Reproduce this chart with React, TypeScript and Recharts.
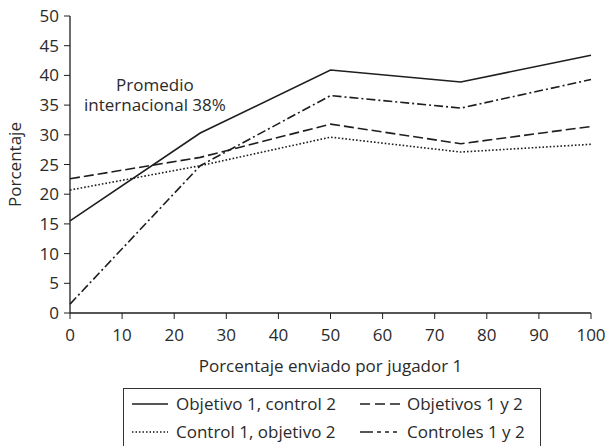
import React from 'react';
import { LineChart, Line, XAxis, YAxis, ReferenceDot } from 'recharts';

const xValues = [0, 25, 50, 75, 100];
const objetivo1Control2 = [15.5, 30.3, 40.9, 38.9, 43.4];
const objetivos1y2 = [22.6, 26.2, 31.8, 28.5, 31.4];
const control1Objetivo2 = [20.7, 24.8, 29.6, 27.1, 28.4];
const controles1y2 = [1.5, 24.8, 36.6, 34.5, 39.3];
const xTicks = [0, 10, 20, 30, 40, 50, 60, 70, 80, 90, 100];
const yTicks = [0, 5, 10, 15, 20, 25, 30, 35, 40, 45, 50];

const seriesInfo = [
  { key: 'a', name: 'Objetivo 1, control 2', dash: undefined as string | undefined, legendDash: undefined as string | undefined, values: objetivo1Control2 },
  { key: 'b', name: 'Objetivos 1 y 2', dash: '10 4', legendDash: '10 5 10 5 10', values: objetivos1y2 },
  { key: 'c', name: 'Control 1, objetivo 2', dash: '1.6 2', legendDash: '1.5 2', values: control1Objetivo2 },
  { key: 'd', name: 'Controles 1 y 2', dash: '9 3 2 3', legendDash: '13 4 4 4 4 4 4', values: controles1y2 },
];

const data = xValues.map((x, i) => {
  const row: Record<string, number> = { x };
  seriesInfo.forEach((s) => (row[s.key] = s.values[i]));
  return row;
});

const FONT = '"Open Sans", sans-serif';
const FS = 17;
const TEXT = '#2a2a2a';
const LINE = '#1e1e1e';

const AnnotationLabel = (props: any) => {
  const { viewBox } = props;
  const cx = viewBox.x + (viewBox.width || 0) / 2;
  const cy = viewBox.y + (viewBox.height || 0) / 2;
  return (
    <text x={cx} y={cy} textAnchor="middle" fontFamily={FONT} fontSize={FS} fill={TEXT}>
      <tspan x={cx} dy={0}>Promedio</tspan>
      <tspan x={cx} dy={20}>internacional 38%</tspan>
    </text>
  );
};

const LegendSwatch = ({ dash, width }: { dash?: string; width: number }) => (
  <svg width={width} height={10} style={{ position: 'absolute', left: 0, top: 9 }}>
    <line x1={0} y1={5} x2={width} y2={5} stroke={LINE} strokeWidth={1.6} strokeDasharray={dash} />
  </svg>
);

const legendCols = [
  { left: 8, swatch: 36, gap: 8 },
  { left: 236, swatch: 40, gap: 7 },
];

export default function App() {
  return (
    <div style={{ position: 'absolute', left: 0, top: 0, width: 606, height: 446, background: '#fff', overflow: 'hidden' }}>
      <LineChart
        width={606}
        height={446}
        data={data}
        margin={{ top: 16, right: 15, bottom: 73, left: 0 }}
      >
        <XAxis
          dataKey="x"
          type="number"
          domain={[0, 100]}
          ticks={xTicks}
          interval={0}
          height={60}
          tickSize={6}
          tickMargin={10}
          tickLine={{ stroke: LINE }}
          axisLine={{ stroke: LINE, strokeWidth: 1.3 }}
          tick={{ fill: TEXT, fontSize: FS, fontFamily: FONT }}
          label={{ value: 'Porcentaje enviado por jugador 1', position: 'insideBottom', offset: 1, fill: TEXT, fontSize: FS, fontFamily: FONT }}
        />
        <YAxis
          type="number"
          domain={[0, 50]}
          ticks={yTicks}
          interval={0}
          width={70}
          tickSize={6}
          tickMargin={5}
          tickLine={{ stroke: LINE }}
          axisLine={{ stroke: LINE, strokeWidth: 1.3 }}
          tick={{ fill: TEXT, fontSize: FS, fontFamily: FONT }}
          label={{ value: 'Porcentaje', angle: -90, position: 'insideLeft', offset: 15, fill: TEXT, fontSize: FS, fontFamily: FONT, style: { textAnchor: 'middle' } }}
        />
        {seriesInfo.map((s) => (
          <Line
            key={s.key}
            dataKey={s.key}
            name={s.name}
            type="linear"
            stroke={LINE}
            strokeWidth={1.6}
            strokeDasharray={s.dash}
            dot={false}
            activeDot={false}
            isAnimationActive={false}
          />
        ))}
        <ReferenceDot x={16.3} y={37.36} r={0} fill="none" stroke="none" label={<AnnotationLabel />} />
      </LineChart>
      <div
        style={{
          position: 'absolute',
          left: 123,
          top: 388,
          width: 418,
          height: 62,
          border: '1px solid #333',
          boxSizing: 'border-box',
          fontFamily: FONT,
          fontSize: FS,
          color: TEXT,
        }}
      >
        {seriesInfo.map((s, i) => {
          const col = legendCols[i % 2];
          const row = Math.floor(i / 2);
          return (
            <div
              key={s.key}
              style={{
                position: 'absolute',
                left: col.left,
                top: 1 + row * 28,
                height: 28,
                lineHeight: '28px',
                whiteSpace: 'nowrap',
                paddingLeft: col.swatch + col.gap,
              }}
            >
              <LegendSwatch dash={s.legendDash} width={col.swatch} />
              <span>{s.name}</span>
            </div>
          );
        })}
      </div>
    </div>
  );
}
